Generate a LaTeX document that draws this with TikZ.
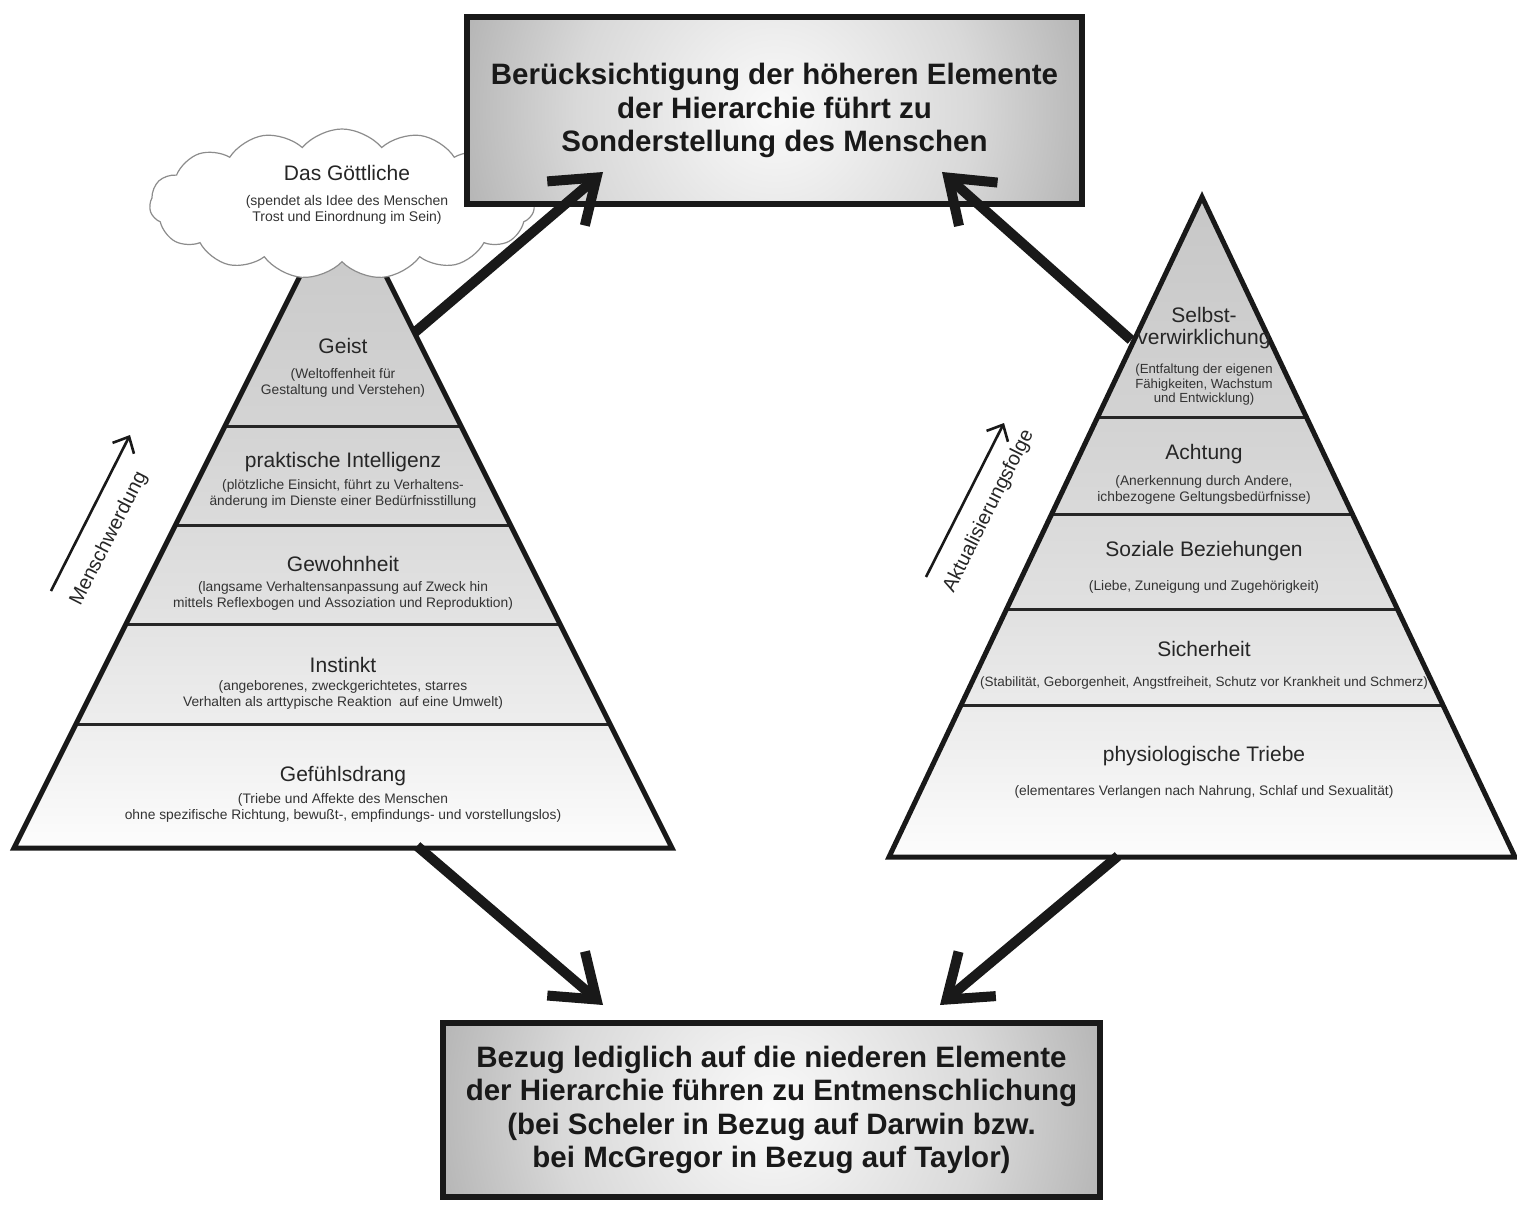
\documentclass[tikz,border=0pt]{standalone}
\usepackage{fontspec}
\setmainfont{Liberation Sans}
\usetikzlibrary{arrows.meta,shapes.symbols}
\pgfdeclareverticalshading{pyrsh}{100bp}{color(0bp)=(black!1); color(25bp)=(black!1); color(33bp)=(black!6); color(44bp)=(black!12); color(57bp)=(black!17); color(75bp)=(black!22); color(100bp)=(black!22)}
\pgfdeclareradialshading{boxsh}{\pgfpoint{0bp}{0bp}}{color(0bp)=(black!2); color(6bp)=(black!7); color(15bp)=(black!15); color(25bp)=(black!30); color(50bp)=(black!30)}
\tikzset{
  pyrfill/.style={shading=pyrsh},
  pyredge/.style={draw=black!90, line width=5pt, line join=miter},
  bandline/.style={draw=black!85, line width=3pt},
  boxnode/.style={draw=black!90, line width=6pt, align=center,
    font=\fontsize{29.5}{33.5}\selectfont\bfseries, text=black!90, inner sep=0pt},
  lbl/.style={font=\fontsize{21}{22.5}\selectfont, text=black!85, align=center, inner sep=0pt},
  sublbl/.style={font=\fontsize{13.8}{16}\selectfont, text=black!80, align=center, inner sep=0pt},
  subtight/.style={font=\fontsize{13.2}{14.5}\selectfont, text=black!80, align=center, inner sep=0pt},
  cloudsub/.style={font=\fontsize{14}{16}\selectfont, text=black!80, align=center, inner sep=0pt},
  bigarrow/.style={draw=black!90, line width=10pt, -{Straight Barb[length=40pt,width=58pt]}},
  thinarrow/.style={draw=black!90, line width=2.6pt, -{Straight Barb[length=13pt,width=24pt]}},
  rotlbl/.style={font=\fontsize{20}{22}\selectfont, text=black!85, inner sep=0pt}
}
\begin{document}
\begin{tikzpicture}[x=1pt,y=-1pt]
\useasboundingbox (0,0) rectangle (1517,1209);
\fill[white] (0,0) rectangle (1517,1209);

% ---------- left pyramid ----------
\coordinate (LA) at (343,190);
\coordinate (LB) at (14,848);
\coordinate (LC) at (672,848);
\path[pyrfill] (LB) -- (LA) -- (LC) -- cycle;
\draw[bandline] (225,426) -- (461,426);
\draw[bandline] (175.5,525) -- (510.5,525);
\draw[bandline] (126,624) -- (560,624);
\draw[bandline] (76,724) -- (610,724);
\draw[pyredge] (LB) -- (LA) -- (LC) -- cycle;

% ---------- right pyramid ----------
\coordinate (RA) at (1202,197);
\coordinate (RB) at (889,857);
\coordinate (RC) at (1515,857);
\path[pyrfill] (RB) -- (RA) -- (RC) -- cycle;
\draw[bandline] (1097.7,417) -- (1306.3,417);
\draw[bandline] (1051.7,514) -- (1352.3,514);
\draw[bandline] (1006.6,609) -- (1397.4,609);
\draw[bandline] (961.1,705) -- (1442.9,705);
\draw[pyredge] (RB) -- (RA) -- (RC) -- cycle;

% ---------- cloud ----------
\node[cloud, cloud puffs=15, cloud puff arc=100, cloud ignores aspect,
      minimum width=385pt, minimum height=150pt, draw=black!45, line width=1.2pt,
      fill=white, inner sep=0pt] (cloud) at (342,204) {};

% ---------- box backgrounds (circular radial shading) ----------
\begin{scope}
  \clip (467,17) rectangle (1082,204);
  \shade[shading=boxsh] (774.5,110.5) circle[radius=330pt];
\end{scope}
\begin{scope}
  \clip (443,1023) rectangle (1100,1197);
  \shade[shading=boxsh] (771.5,1110) circle[radius=352pt];
\end{scope}

% ---------- boxes ----------
\node[boxnode, minimum width=615pt, minimum height=187pt] (top) at (774.5,110.5)
  {Berücksichtigung der höheren Elemente\\der Hierarchie führt zu\\Sonderstellung des Menschen};
\node[boxnode, minimum width=657pt, minimum height=174pt] (bottom) at (771.5,1110)
  {Bezug lediglich auf die niederen Elemente\\der Hierarchie führen zu Entmenschlichung\\(bei Scheler in Bezug auf Darwin bzw.\\bei McGregor in Bezug auf Taylor)};

% ---------- thick arrows ----------
\coordinate (a1s) at (414,333);
\coordinate (a1e) at (603,172);
\coordinate (a2s) at (1131,340);
\coordinate (a2e) at (942,172);
\coordinate (a3s) at (417,846);
\coordinate (a3e) at (603,1005);
\coordinate (a4s) at (1118,856);
\coordinate (a4e) at (940,1005);
\draw[bigarrow] (a1s) -- (a1e);
\draw[bigarrow] (a2s) -- (a2e);
\draw[bigarrow] (a3s) -- (a3e);
\draw[bigarrow] (a4s) -- (a4e);

% ---------- thin arrows and rotated labels ----------
\coordinate (m1) at (51,591);
\coordinate (m2) at (130,435);
\draw[thinarrow] (m1) -- (m2);
\node[rotlbl, rotate=63] (mensch) at (109,539) {Menschwerdung};
\coordinate (k1) at (926,577);
\coordinate (k2) at (1004,423);
\draw[thinarrow] (k1) -- (k2);
\node[rotlbl, rotate=63.5] (aktual) at (989,511) {Aktualisierungsfolge};

% ---------- cloud text ----------
\node[lbl] (gott) at (347,173) {Das Göttliche};
\node[cloudsub] (gottS) at (347,210) {(spendet als Idee des Menschen\\Trost und Einordnung im Sein)};

% ---------- left pyramid text ----------
\node[lbl] (geist) at (343,346) {Geist};
\node[sublbl] (geistS) at (343,383) {(Weltoffenheit für\\Gestaltung und Verstehen)};
\node[lbl] (prakt) at (343,462) {praktische Intelligenz};
\node[sublbl] (praktS) at (343,494) {(plötzliche Einsicht, führt zu Verhaltens-\\änderung im Dienste einer Bedürfnisstillung};
\node[lbl] (gewohn) at (343,564) {Gewohnheit};
\node[sublbl] (gewohnS) at (343,596) {(langsame Verhaltensanpassung auf Zweck hin\\mittels Reflexbogen und Assoziation und Reproduktion)};
\node[lbl] (instinkt) at (343,665) {Instinkt};
\node[sublbl] (instinktS) at (343,695) {(angeborenes, zweckgerichtetes, starres\\Verhalten als arttypische Reaktion\ \ auf eine Umwelt)};
\node[lbl] (gefuehl) at (343,776) {Gefühlsdrang};
\node[sublbl] (gefuehlS) at (343,808) {(Triebe und Affekte des Menschen\\ohne spezifische Richtung, bewußt-, empfindungs- und vorstellungslos)};

% ---------- right pyramid text ----------
\node[lbl] (selbst) at (1204,328) {Selbst-\\verwirklichung};
\node[subtight] (selbstS) at (1204,385) {(Entfaltung der eigenen\\Fähigkeiten, Wachstum\\und Entwicklung)};
\node[lbl] (achtung) at (1204,454) {Achtung};
\node[sublbl] (achtungS) at (1204,490) {(Anerkennung durch Andere,\\ichbezogene Geltungsbedürfnisse)};
\node[lbl] (sozial) at (1204,551) {Soziale Beziehungen};
\node[sublbl] (sozialS) at (1204,587) {(Liebe, Zuneigung und Zugehörigkeit)};
\node[lbl] (sicher) at (1204,649) {Sicherheit};
\node[sublbl, font=\fontsize{13.5}{16}\selectfont] (sicherS) at (1204,683) {(Stabilität, Geborgenheit, Angstfreiheit, Schutz vor Krankheit und Schmerz)};
\node[lbl] (physio) at (1204,756) {physiologische Triebe};
\node[sublbl] (physioS) at (1204,792) {(elementares Verlangen nach Nahrung, Schlaf und Sexualität)};
\end{tikzpicture}
\end{document}
